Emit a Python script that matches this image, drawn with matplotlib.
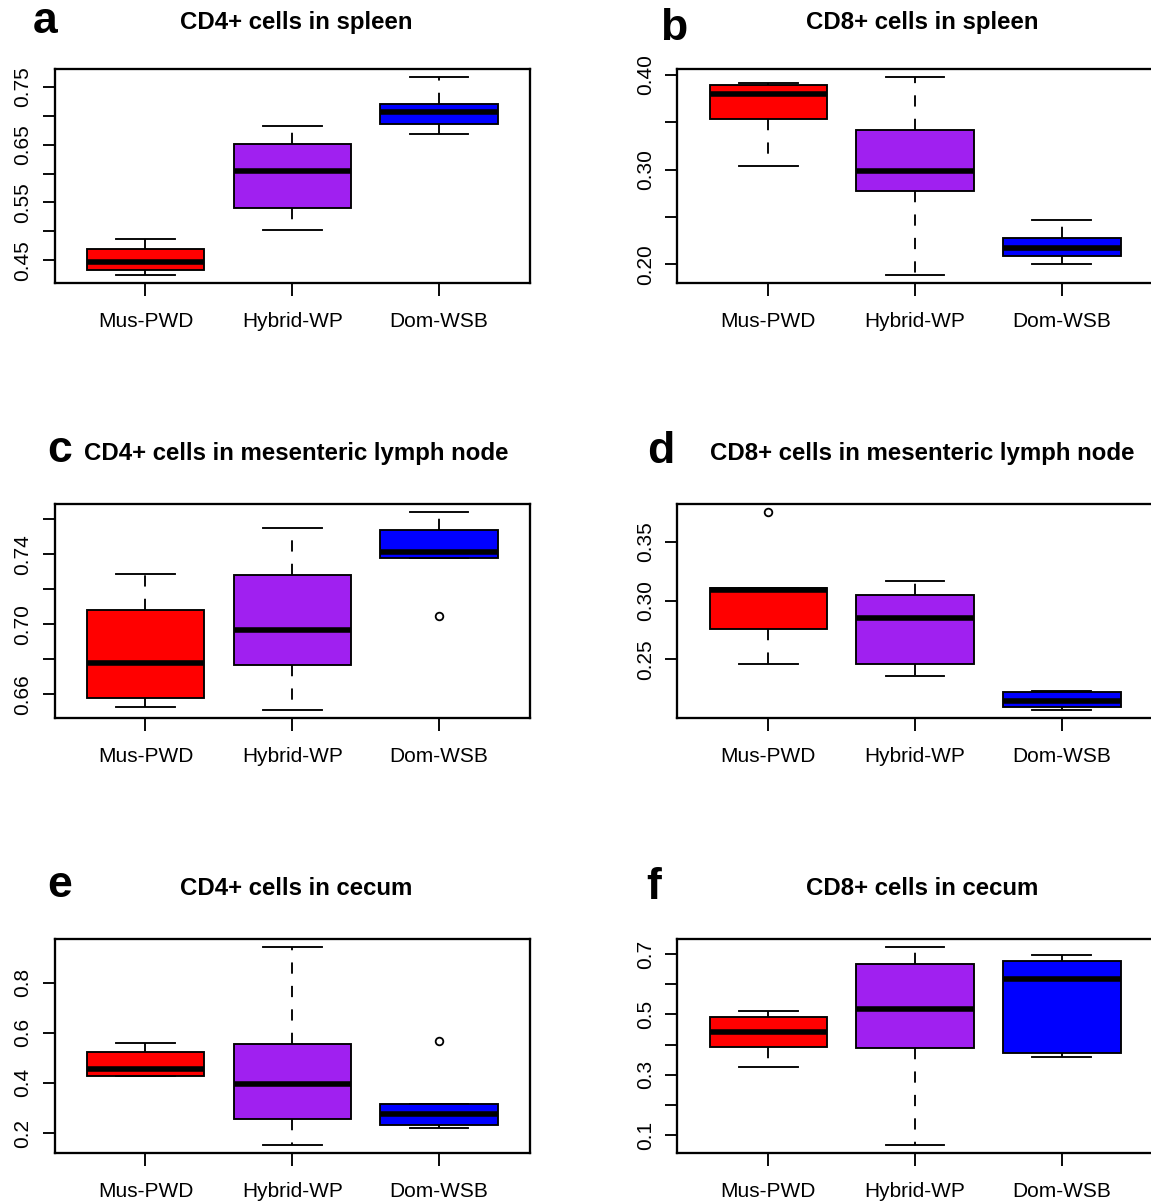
import matplotlib
matplotlib.use("Agg")
import matplotlib.pyplot as plt

plt.rcParams["font.family"] = ["Liberation Sans", "DejaVu Sans"]

groups = ["Mus-PWD", "Hybrid-WP", "Dom-WSB"]
colors = ["#FF0000", "#A020F0", "#0000FF"]

# five-number summaries per panel: whisker low, Q1, median, Q3, whisker high
a_lo = [0.425, 0.503, 0.668]
a_q1 = [0.433, 0.540, 0.685]
a_med = [0.447, 0.605, 0.707]
a_q3 = [0.470, 0.651, 0.721]
a_hi = [0.487, 0.683, 0.767]
a_out = [[], [], []]

b_lo = [0.304, 0.189, 0.200]
b_q1 = [0.354, 0.277, 0.209]
b_med = [0.380, 0.299, 0.217]
b_q3 = [0.389, 0.342, 0.228]
b_hi = [0.392, 0.398, 0.247]
b_out = [[], [], []]

c_lo = [0.653, 0.651, 0.738]
c_q1 = [0.658, 0.677, 0.738]
c_med = [0.678, 0.697, 0.741]
c_q3 = [0.708, 0.728, 0.754]
c_hi = [0.729, 0.755, 0.764]
c_out = [[], [], [0.705]]

d_lo = [0.246, 0.236, 0.207]
d_q1 = [0.2755, 0.246, 0.210]
d_med = [0.309, 0.285, 0.2145]
d_q3 = [0.3105, 0.305, 0.222]
d_hi = [0.3105, 0.317, 0.2235]
d_out = [[0.375], [], []]

e_lo = [0.429, 0.153, 0.219]
e_q1 = [0.429, 0.256, 0.233]
e_med = [0.454, 0.394, 0.276]
e_q3 = [0.523, 0.554, 0.314]
e_hi = [0.561, 0.943, 0.314]
e_out = [[], [], [0.566]]

f_lo = [0.325, 0.068, 0.360]
f_q1 = [0.393, 0.388, 0.371]
f_med = [0.441, 0.517, 0.617]
f_q3 = [0.493, 0.667, 0.676]
f_hi = [0.510, 0.724, 0.696]
f_out = [[], [], []]

titles = ["CD4+ cells in spleen", "CD8+ cells in spleen",
          "CD4+ cells in mesenteric lymph node", "CD8+ cells in mesenteric lymph node",
          "CD4+ cells in cecum", "CD8+ cells in cecum"]
letters = ["a", "b", "c", "d", "e", "f"]

a_ticks = [0.45, 0.50, 0.55, 0.60, 0.65, 0.70, 0.75]
a_labels = ["0.45", "", "0.55", "", "0.65", "", "0.75"]
b_ticks = [0.20, 0.25, 0.30, 0.35, 0.40]
b_labels = ["0.20", "", "0.30", "", "0.40"]
c_ticks = [0.66, 0.68, 0.70, 0.72, 0.74, 0.76]
c_labels = ["0.66", "", "0.70", "", "0.74", ""]
d_ticks = [0.25, 0.30, 0.35]
d_labels = ["0.25", "0.30", "0.35"]
e_ticks = [0.2, 0.4, 0.6, 0.8]
e_labels = ["0.2", "0.4", "0.6", "0.8"]
f_ticks = [0.1, 0.2, 0.3, 0.4, 0.5, 0.6, 0.7]
f_labels = ["0.1", "", "0.3", "", "0.5", "", "0.7"]

panels = [
    (a_lo, a_q1, a_med, a_q3, a_hi, a_out, a_ticks, a_labels),
    (b_lo, b_q1, b_med, b_q3, b_hi, b_out, b_ticks, b_labels),
    (c_lo, c_q1, c_med, c_q3, c_hi, c_out, c_ticks, c_labels),
    (d_lo, d_q1, d_med, d_q3, d_hi, d_out, d_ticks, d_labels),
    (e_lo, e_q1, e_med, e_q3, e_hi, e_out, e_ticks, e_labels),
    (f_lo, f_q1, f_med, f_q3, f_hi, f_out, f_ticks, f_labels),
]

W, H = 1151, 1204
fig = plt.figure(figsize=(W / 100, H / 100), dpi=100)

col_left = [54.5, 677.3]
row_top = [69.0, 504.3, 939.0]
ax_w, ax_h = 475.5, 213.7
title_cx = [296, 922]
title_base = [29, 460, 895]
letter_pos = [(33, 33), (660, 40), (47, 462), (647, 463), (47, 897), (646, 899)]

lw = 1.35
for i, (lo, q1, med, q3, hi, out, ticks, labels) in enumerate(panels):
    r, c = divmod(i, 2)
    ax = fig.add_axes([col_left[c] / W, 1 - (row_top[r] + ax_h) / H, ax_w / W, ax_h / H])
    stats = [dict(whislo=lo[k], q1=q1[k], med=med[k], q3=q3[k], whishi=hi[k],
                  fliers=out[k], label=groups[k]) for k in range(3)]
    bp = ax.bxp(stats, positions=[1, 2, 3], widths=0.8, capwidths=0.4,
                patch_artist=True, showfliers=True,
                boxprops=dict(linewidth=lw, edgecolor="black"),
                whiskerprops=dict(linewidth=lw, linestyle=(0, (6, 6.5)), color="black"),
                capprops=dict(linewidth=lw, color="black"),
                medianprops=dict(linewidth=4.0, color="black", solid_capstyle="butt"),
                flierprops=dict(marker="o", markersize=5.5, markerfacecolor="none",
                                markeredgecolor="black", markeredgewidth=1.3))
    for patch, col in zip(bp["boxes"], colors):
        patch.set_facecolor(col)
    ax.set_xlim(0.38, 3.62)
    ylo = min(min(lo), min([v for o in out for v in o], default=1e9))
    yhi = max(max(hi), max([v for o in out for v in o], default=-1e9))
    pad = 0.04 * (yhi - ylo)
    ax.set_ylim(ylo - pad, yhi + pad)
    ax.set_yticks(ticks)
    ax.set_yticklabels(labels, rotation=90, va="center")
    ax.set_xticks([1, 2, 3])
    ax.set_xticklabels(groups)
    ax.tick_params(axis="both", direction="out", length=9, width=lw,
                   labelsize=15, colors="black")
    ax.tick_params(axis="y", pad=7)
    ax.tick_params(axis="x", pad=12)
    for s in ax.spines.values():
        s.set_linewidth(lw + 0.3)
    fig.text(title_cx[c] / W, 1 - title_base[r] / H, titles[i], ha="center",
             va="baseline", fontsize=17.3, fontweight="bold")
    lx, ly = letter_pos[i]
    fig.text(lx / W, 1 - ly / H, letters[i], ha="left", va="baseline",
             fontsize=32, fontweight="bold")

fig.savefig("out.png", dpi=100)
